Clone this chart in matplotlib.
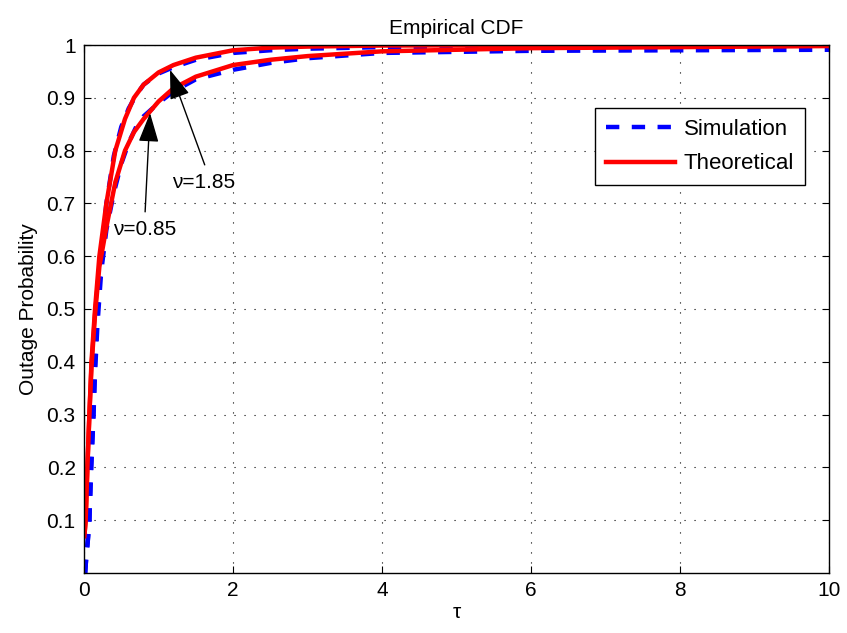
import numpy as np
import matplotlib
matplotlib.use('Agg')
import matplotlib.pyplot as plt

plt.rcParams['font.family'] = ['Liberation Sans', 'DejaVu Sans']

# theoretical curves
tau_th = [0.005, 0.022, 0.045, 0.072, 0.10, 0.148, 0.206, 0.30, 0.42, 0.55, 0.67, 0.8,
          1.0, 1.2, 1.5, 2.0, 2.5, 3.0, 4.0, 6.0, 10.0]
th_185 = [0.07, 0.10, 0.20, 0.30, 0.40, 0.50, 0.60, 0.70, 0.80, 0.86, 0.90, 0.925,
          0.948, 0.962, 0.976, 0.99, 0.995, 0.997, 0.999, 0.9995, 1.0]
th_085 = [0.07, 0.10, 0.20, 0.30, 0.39, 0.49, 0.58, 0.655, 0.74, 0.80, 0.835, 0.86,
          0.893, 0.918, 0.94, 0.962, 0.972, 0.979, 0.988, 0.994, 0.998]

# simulation (empirical) curves
tau_sim = [0.015, 0.03, 0.05, 0.072, 0.094, 0.125, 0.148, 0.18, 0.23, 0.30, 0.40, 0.5,
           0.6, 0.7, 0.8, 1.0, 1.2, 1.5, 2.0, 2.5, 3.0, 4.0, 6.0, 10.0]
sim_185 = [0.0, 0.03, 0.06, 0.10, 0.20, 0.30, 0.40, 0.50, 0.60, 0.70, 0.79, 0.845,
           0.88, 0.905, 0.925, 0.946, 0.958, 0.972, 0.985, 0.99, 0.993, 0.996, 0.998, 0.999]
sim_085 = [0.0, 0.03, 0.06, 0.10, 0.19, 0.29, 0.38, 0.47, 0.57, 0.65, 0.72, 0.775,
           0.815, 0.845, 0.865, 0.89, 0.912, 0.935, 0.953, 0.966, 0.975, 0.985, 0.989, 0.991]

xticks = [0, 2, 4, 6, 8, 10]
yticks = [0.1, 0.2, 0.3, 0.4, 0.5, 0.6, 0.7, 0.8, 0.9, 1.0]
ytick_labels = ['0.1', '0.2', '0.3', '0.4', '0.5', '0.6', '0.7', '0.8', '0.9', '1']

fs = 15
fig = plt.figure(figsize=(8.47, 6.33), dpi=100)
ax = fig.add_axes([0.0992, 0.0948, 0.8796, 0.8341])

dash = (3, 2.8)
ax.plot(tau_sim, sim_185, '--', color='blue', lw=3.2, dashes=dash, label='Simulation')
ax.plot(tau_th, th_185, '-', color='red', lw=3.2, label='Theoretical')
ax.plot(tau_sim, sim_085, '--', color='blue', lw=3.2, dashes=dash)
ax.plot(tau_th, th_085, '-', color='red', lw=3.2)

ax.set_xlim(0, 10)
ax.set_ylim(0, 1)
ax.set_xticks(xticks)
ax.set_yticks(yticks)
ax.set_yticklabels(ytick_labels)
ax.tick_params(direction='in', top=True, right=True, labelsize=fs, length=5, pad=6)
ax.grid(True, color='black', linestyle=(0, (1, 8)), linewidth=0.8)
for s in ax.spines.values():
    s.set_linewidth(1.0)

ax.set_title('Empirical CDF', fontsize=fs, pad=8)
ax.set_xlabel('τ', fontsize=fs, labelpad=2)
ax.set_ylabel('Outage Probability', fontsize=fs, labelpad=6)

arrow = dict(arrowstyle='-|>,head_length=1.3,head_width=0.45', color='black', lw=1.0,
             mutation_scale=14, shrinkA=0, shrinkB=0)
ax.annotate('', xy=(1.154, 0.953), xytext=(1.62, 0.773), arrowprops=arrow)
ax.text(1.61, 0.74, 'ν=1.85', fontsize=fs, ha='center', va='center')
ax.annotate('', xy=(0.886, 0.871), xytext=(0.82, 0.684), arrowprops=arrow)
ax.text(0.82, 0.65, 'ν=0.85', fontsize=fs, ha='center', va='center')

leg = ax.legend(loc='upper right', bbox_to_anchor=(0.968, 0.881), fontsize=16,
                handlelength=3.1, handletextpad=0.4, fancybox=False, framealpha=1,
                edgecolor='black', borderpad=0.5, labelspacing=0.6, borderaxespad=0)
leg.get_frame().set_linewidth(1.0)

fig.savefig('out.png', dpi=100)
